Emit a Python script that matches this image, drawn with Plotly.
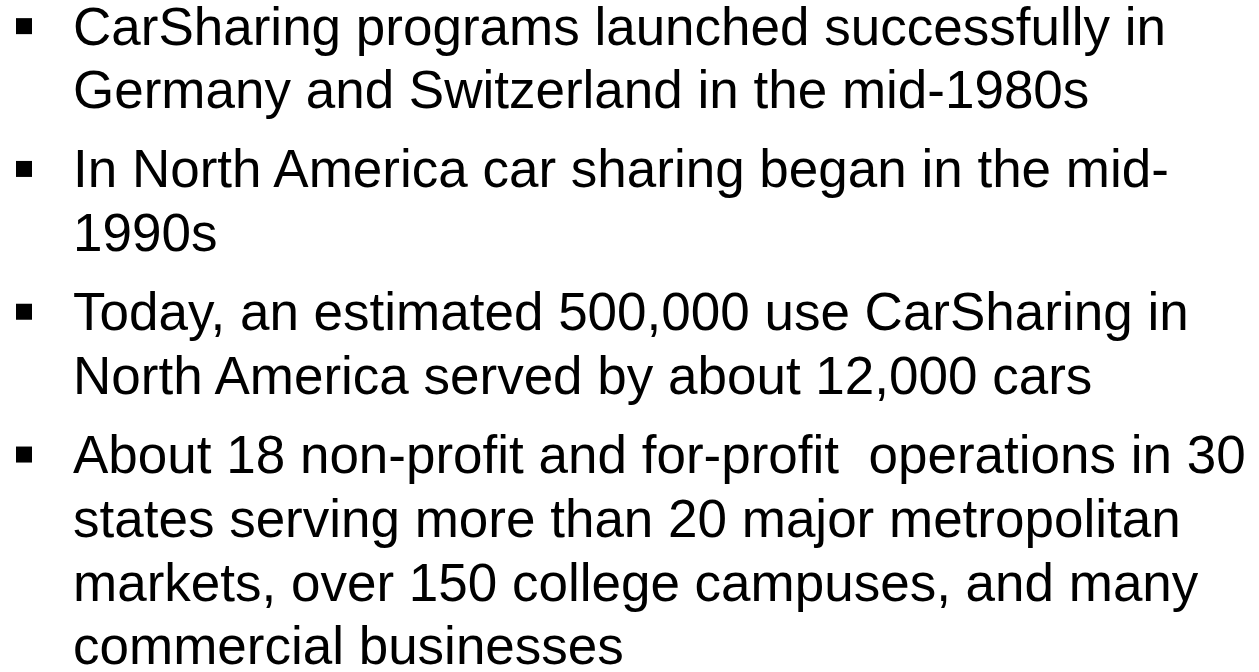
import plotly.graph_objects as go

# slide text, one list of wrapped lines per bullet
bullet_1 = ["CarSharing programs launched successfully in",
            "Germany and Switzerland in the mid-1980s"]
bullet_2 = ["In North America car sharing began in the mid-",
            "1990s"]
bullet_3 = ["Today, an estimated 500,000 use CarSharing in",
            "North America served by about 12,000 cars"]
bullet_4 = ["About 18 non-profit and for-profit \u00a0operations in 30",
            "states serving more than 20 major metropolitan",
            "markets, over 150 college campuses, and many",
            "commercial businesses"]
bullets = [bullet_1, bullet_2, bullet_3, bullet_4]

W, H = 1259, 672
FONT = "Liberation Sans, Arial, sans-serif"
SIZE = 53
first_baseline = 44.5
line_step = 63.8
para_gap = 79
text_x = 72
bullet_x = 24

fig = go.Figure()

# lay the lines out top to bottom
bx, by = [], []
base = first_baseline
for para in bullets:
    for i, line in enumerate(para):
        mid = base - 0.3465 * SIZE
        if i == 0:
            bx.append(bullet_x)
            by.append(mid)
        fig.add_annotation(
            x=text_x, y=mid, text=line,
            xanchor="left", yanchor="middle",
            showarrow=False, borderpad=0,
            font=dict(family=FONT, size=SIZE, color="black"),
        )
        base += line_step if i < len(para) - 1 else para_gap

fig.add_trace(go.Scatter(
    x=bx, y=by, mode="markers",
    marker=dict(symbol="square", size=16, color="black", line_width=0),
    hoverinfo="skip",
))

fig.update_layout(
    width=W, height=H,
    margin=dict(l=0, r=0, t=0, b=0),
    paper_bgcolor="white", plot_bgcolor="white",
    showlegend=False,
)
fig.update_xaxes(range=[0, W], visible=False, fixedrange=True)
fig.update_yaxes(range=[H, 0], visible=False, fixedrange=True)

fig.write_html("out.html", config={"displayModeBar": False},
               post_script="document.body.style.margin='0';")
